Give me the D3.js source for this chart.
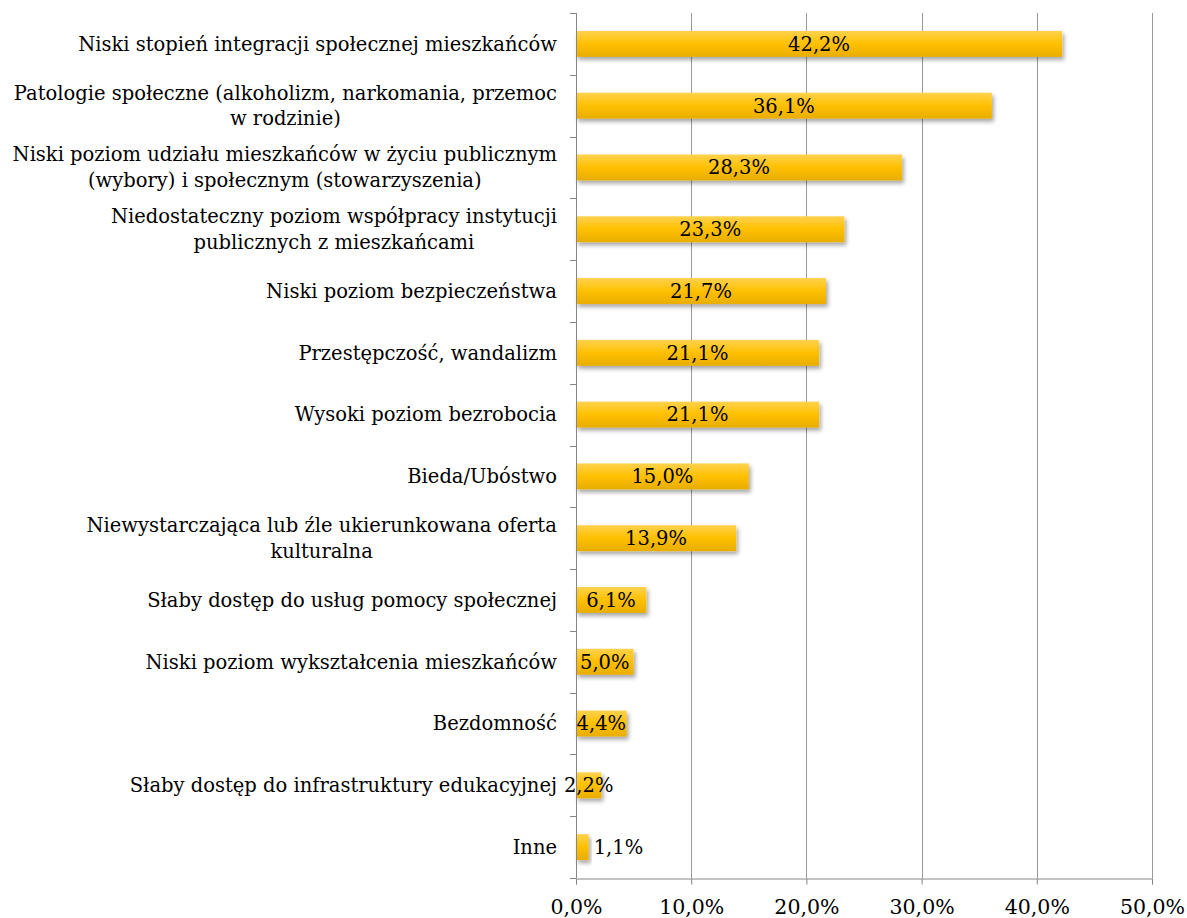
<!DOCTYPE html>
<head>
  <meta charset="utf-8">
  <script src="https://cdn.jsdelivr.net/npm/d3@7/dist/d3.min.js"></script>
  <style>
    body { margin:0; background:#fff; }
    text { font-family: "DejaVu Serif", serif; fill:#000; }
  </style>
</head>
<body>
  <svg width="1187" height="918"></svg>
  <script>
    // categories (multi-line labels split with |)
    var categories = [
      "Niski stopień integracji społecznej mieszkańców",
      "Patologie społeczne (alkoholizm, narkomania, przemoc|w rodzinie)",
      "Niski poziom udziału mieszkańców w życiu publicznym|(wybory) i społecznym (stowarzyszenia)",
      "Niedostateczny poziom współpracy instytucji|publicznych z mieszkańcami",
      "Niski poziom bezpieczeństwa",
      "Przestępczość, wandalizm",
      "Wysoki poziom bezrobocia",
      "Bieda/Ubóstwo",
      "Niewystarczająca lub źle ukierunkowana oferta|kulturalna",
      "Słaby dostęp do usług pomocy społecznej",
      "Niski poziom wykształcenia mieszkańców",
      "Bezdomność",
      "Słaby dostęp do infrastruktury edukacyjnej",
      "Inne"
    ];
    var values = [42.2, 36.1, 28.3, 23.3, 21.7, 21.1, 21.1, 15.0, 13.9, 6.1, 5.0, 4.4, 2.2, 1.1];
    var ticks = [0, 10, 20, 30, 40, 50];

    var svg = d3.select("svg");
    var mLeft = 576, mRight = 1152, mTop = 13, mBottom = 878;
    var fontSize = "19.5px";

    var fmt = function (v) { return d3.format(".1f")(v).replace(".", ",") + "%"; };

    var x = d3.scaleLinear().domain([0, 50]).range([mLeft, mRight]);
    var y = d3.scaleBand().domain(d3.range(categories.length)).range([mTop, mBottom]).paddingInner(0.58).paddingOuter(0.29);

    var defs = svg.append("defs");
    var grad = defs.append("linearGradient").attr("id", "barGrad")
      .attr("x1", 0).attr("y1", 0).attr("x2", 0).attr("y2", 1);
    grad.append("stop").attr("offset", "0%").attr("stop-color", "#ffd24f");
    grad.append("stop").attr("offset", "50%").attr("stop-color", "#ffc000");
    grad.append("stop").attr("offset", "100%").attr("stop-color", "#e8ad00");
    var shadow = defs.append("filter").attr("id", "shadow").attr("x", "-10%").attr("y", "-20%").attr("width", "130%").attr("height", "160%");
    shadow.append("feDropShadow").attr("dx", 2).attr("dy", 3).attr("stdDeviation", 2)
      .attr("flood-color", "#000").attr("flood-opacity", 0.35);

    // gridlines
    svg.append("g").selectAll("line").data(ticks.slice(1)).enter().append("line")
      .attr("x1", function (d) { return Math.round(x(d)) + 0.5; }).attr("x2", function (d) { return Math.round(x(d)) + 0.5; })
      .attr("y1", mTop).attr("y2", mBottom)
      .attr("stroke", "#9a9a9a").attr("stroke-width", 1);

    // bars
    svg.append("g").selectAll("rect").data(values).enter().append("rect")
      .attr("x", x(0))
      .attr("y", function (d, i) { return y(i); })
      .attr("width", function (d) { return x(d) - x(0); })
      .attr("height", y.bandwidth())
      .attr("fill", "url(#barGrad)")
      .attr("filter", "url(#shadow)");

    // value labels
    svg.append("g").selectAll("text").data(values).enter().append("text")
      .attr("x", function (d) { var w = x(d) - x(0); return w < 20 ? x(d) + 5 : x(0) + w / 2; })
      .attr("y", function (d, i) { return y(i) + y.bandwidth() / 2; })
      .attr("dy", "0.35em")
      .attr("text-anchor", function (d) { return x(d) - x(0) < 20 ? "start" : "middle"; })
      .style("font-size", fontSize)
      .text(fmt);

    // axes
    var yAxis = svg.append("g");
    yAxis.append("line").attr("x1", mLeft + 0.5).attr("x2", mLeft + 0.5).attr("y1", mTop).attr("y2", mBottom)
      .attr("stroke", "#868686");
    var step = (mBottom - mTop) / categories.length;
    yAxis.selectAll("line.t").data(d3.range(categories.length + 1)).enter().append("line")
      .attr("class", "t")
      .attr("x1", mLeft - 6).attr("x2", mLeft)
      .attr("y1", function (d) { return Math.round(mTop + d * step) + 0.5; })
      .attr("y2", function (d) { return Math.round(mTop + d * step) + 0.5; })
      .attr("stroke", "#868686");

    var xAxis = svg.append("g").attr("transform", "translate(0," + (mBottom + 0.5) + ")")
      .call(d3.axisBottom(x).tickValues(ticks).tickSize(6).tickPadding(15).tickFormat(fmt));
    xAxis.select(".domain").attr("stroke", "#868686");
    xAxis.selectAll(".tick line").attr("stroke", "#868686");
    xAxis.selectAll("text").style("font-size", "20.5px").style("font-family", "'DejaVu Serif', serif");

    // category labels, right-aligned block with centred lines
    var lab = svg.append("g").selectAll("text").data(categories).enter().append("text")
      .attr("text-anchor", "middle")
      .style("font-size", fontSize);
    lab.each(function (d, i) {
      var lines = d.split("|");
      var t = d3.select(this);
      var n = lines.length;
      lines.forEach(function (s, k) {
        t.append("tspan").attr("x", 0).attr("y", (k - (n - 1) / 2) * 26).attr("dy", "0.35em").text(s);
      });
      var w = this.getBBox().width;
      t.attr("transform", "translate(" + (557 - w / 2) + "," + (y(i) + y.bandwidth() / 2) + ")");
    });
  </script>
</body>
